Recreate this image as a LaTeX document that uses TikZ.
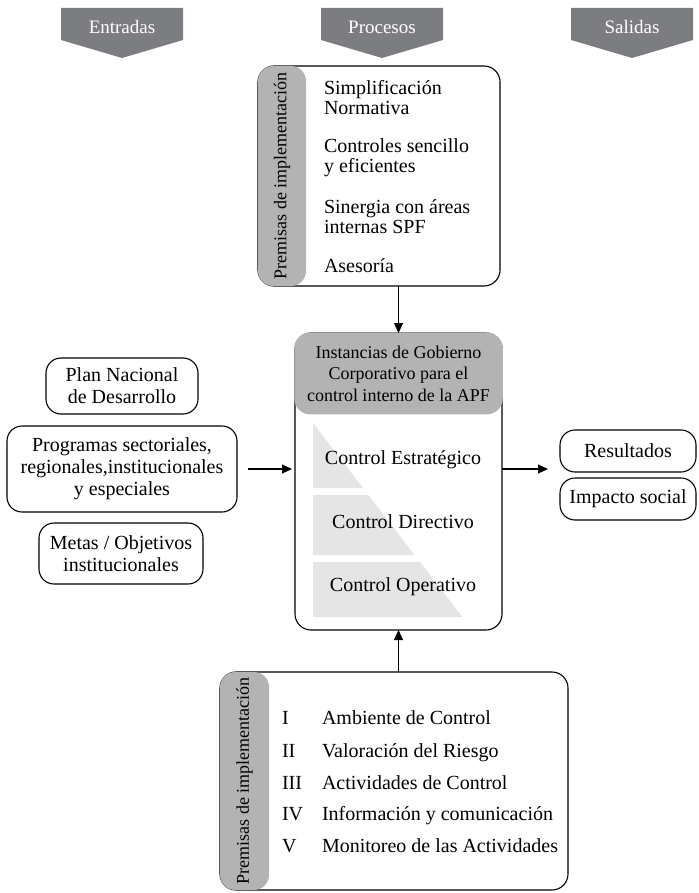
\documentclass[tikz,border=0pt]{standalone}
\usepackage{fontspec}
\setmainfont{Liberation Serif}
\usetikzlibrary{arrows.meta}
\definecolor{tagfill}{HTML}{7C7D81}
\definecolor{tabfill}{HTML}{B3B3B3}
\definecolor{stepfill}{HTML}{E5E5E5}
% column heading: grey pentagon pointing down, with white label
\newcommand\flowtag[3]{%
  \fill[tagfill] (#2-61,8) -- (#2+61,8) -- (#2+61,40) -- (#2,58) -- (#2-61,40) -- cycle;
  \node[tagtext] (#1) at (#2,27) {#3};}

\begin{document}
\begin{tikzpicture}[x=1pt,y=-1pt,
  every node/.style={inner sep=0pt,outer sep=0pt},
  tagtext/.style={text=white,font=\fontsize{19}{21}\selectfont},
  body/.style={font=\fontsize{20}{20}\selectfont},
  boxln/.style={draw=black,line width=1.1pt},
  pill/.style={boxln,rounded corners=15pt,align=center,font=\fontsize{20}{22}\selectfont},
  tab/.style={fill=tabfill,rounded corners=15pt},
  tabtext/.style={rotate=90,font=\fontsize{18}{20}\selectfont},
  arr/.style={line width=1.1pt,-{Triangle[length=10pt,width=9pt]}}]
\useasboundingbox (0,0) rectangle (698,893);

% headings
\flowtag{entradas}{122}{Entradas}
\flowtag{procesos}{382}{Procesos}
\flowtag{salidas}{632}{Salidas}

% upper premises box
\node[boxln,rounded corners=16pt,minimum width=242,minimum height=220] (topbox) at (379,176) {};
\node[tab,minimum width=48,minimum height=220,anchor=west] (toptab) at (topbox.west) {};
\node[tabtext] (toptabtext) at (toptab.center) {Premisas de implementación};
\node[body,align=left,anchor=west] (p1) at (324,98) {Simplificación\\Normativa};
\node[body,align=left,anchor=west] (p2) at (324,157.5) {Controles sencillo\\y eficientes};
\node[body,align=left,anchor=west] (p3) at (324,216.5) {Sinergia con áreas\\internas SPF};
\node[body,align=left,anchor=west] (p4) at (324,266) {Asesoría};

% central governance box
\node[boxln,rounded corners=16pt,minimum width=207,minimum height=297] (core) at (398.5,481.5) {};
\node[fill=tabfill,rounded corners=16pt,minimum width=208.5,minimum height=82,anchor=north] (corehead) at ([yshift=0.6pt]core.north) {};
\node[align=center,font=\fontsize{18}{21.5}\selectfont] (coretitle) at (corehead.center) {Instancias de Gobierno\\Corporativo para el\\control interno de la APF};

% control levels (stepped triangle)
\fill[stepfill] (313,423) -- (313,488) -- (363,488) -- cycle;
\fill[stepfill] (313,495) -- (313,555) -- (414.6,555) -- (368.4,495) -- cycle;
\fill[stepfill] (313,562) -- (313,617) -- (462.4,617) -- (420,562) -- cycle;
\node[body] (c1) at (403,460) {Control Estratégico};
\node[body] (c2) at (403,522) {Control Directivo};
\node[body] (c3) at (403,587) {Control Operativo};

% inputs
\node[pill,minimum width=152,minimum height=56] (pnd) at (122,386) {Plan Nacional\\de Desarrollo};
\node[pill,minimum width=230,minimum height=86] (prog) at (122,469) {Programas sectoriales,\\regionales,institucionales\\y especiales};
\node[pill,minimum width=164,minimum height=61] (metas) at (121,553.5) {Metas / Objetivos\\institucionales};

% outputs
\node[pill,minimum width=136,minimum height=42] (res) at (628,451) {Resultados};
\node[pill,minimum width=136,minimum height=42] (imp) at (628,499) {Impacto social};

% lower premises box
\node[boxln,rounded corners=16pt,minimum width=348,minimum height=218] (botbox) at (394,781) {};
\node[tab,minimum width=49,minimum height=218,anchor=west] (bottab) at (botbox.west) {};
\node[tabtext] (bottabtext) at (bottab.center) {Premisas de implementación};
\foreach \n/\num/\txt/\y in {1/I/Ambiente de Control/717,
                             2/II/Valoración del Riesgo/750,
                             3/III/Actividades de Control/782,
                             4/IV/Información y comunicación/813,
                             5/V/Monitoreo de las Actividades/845}{
  \node[body,anchor=base west] (n\n) at (282,\y+7) {\num};
  \node[body,anchor=base west] (i\n) at (322,\y+7) {\txt};
}

% connectors
\draw[arr] (core.north |- topbox.south) -- (core.north);
\draw[arr] (core.south |- botbox.north) -- (core.south);
\draw[arr,shorten <=11pt,shorten >=3pt] (prog.east) -- (prog.east -| core.west);
\draw[arr,shorten >=12pt] (prog.east -| core.east) -- (prog.east -| res.west);
\end{tikzpicture}
\end{document}
